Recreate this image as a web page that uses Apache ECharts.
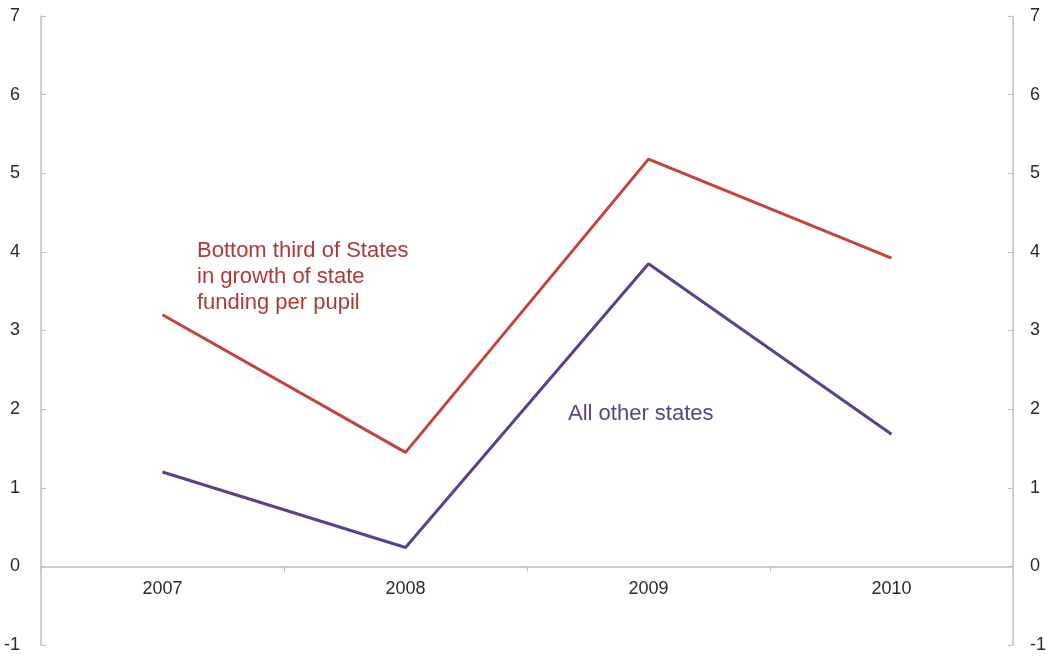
<!DOCTYPE html>
<html>
<head>
<meta charset="utf-8">
<script src="https://cdn.jsdelivr.net/npm/echarts@6/dist/echarts.min.js"></script>
<style>
  html, body { margin: 0; padding: 0; background: #fff; }
  #chart { width: 1047px; height: 658px; }
</style>
</head>
<body>
<div id="chart"></div>
<script>
var years = ['2007', '2008', '2009', '2010'];
var bottomThird = [3.2, 1.45, 5.18, 3.92];
var otherStates = [1.2, 0.24, 3.85, 1.68];
var yTicks = [-1, 0, 1, 2, 3, 4, 5, 6, 7];

var chart = echarts.init(document.getElementById('chart'));

var axisGray = '#bfbfbf';
var gridTop = 16, gridBottom = 13;
var plotH = 658 - gridTop - gridBottom;
var yMin = yTicks[0], yMax = yTicks[yTicks.length - 1];
// move the category axis up so it sits on y = 0
var xOffset = -((0 - yMin) / (yMax - yMin)) * plotH;

var labelFont = {
  color: '#2a2a2a',
  fontSize: 18,
  fontFamily: 'Liberation Sans, Arial, sans-serif'
};

var yAxisBase = function (pos, margin) {
  return {
    type: 'value',
    position: pos,
    min: yMin,
    max: yMax,
    interval: 1,
    axisLine: { show: true, lineStyle: { color: axisGray, width: 1.5 } },
    axisTick: { show: true, inside: true, length: 5, lineStyle: { color: axisGray } },
    axisLabel: Object.assign({ margin: margin }, labelFont),
    splitLine: { show: false }
  };
};

chart.setOption({
  animation: false,
  backgroundColor: '#fff',
  grid: {
    left: 41, right: 34, top: gridTop, bottom: gridBottom,
    containLabel: false, outerBoundsMode: 'none'
  },
  xAxis: {
    type: 'category',
    data: years,
    boundaryGap: true,
    offset: xOffset,
    axisLine: { onZero: false, lineStyle: { color: axisGray, width: 1.5 } },
    axisTick: { show: true, length: 5, lineStyle: { color: axisGray } },
    axisLabel: Object.assign({ margin: 14 }, labelFont)
  },
  yAxis: [yAxisBase('left', 21), yAxisBase('right', 17)],
  series: [
    {
      name: 'Bottom third of States in growth of state funding per pupil',
      type: 'line',
      data: bottomThird,
      symbol: 'none',
      lineStyle: { color: '#c6423f', width: 3 }
    },
    {
      name: 'All other states',
      type: 'line',
      data: otherStates,
      symbol: 'none',
      lineStyle: { color: '#5c408b', width: 3 }
    }
  ],
  graphic: [
    {
      type: 'text',
      left: 197,
      top: 238,
      style: {
        text: 'Bottom third of States\nin growth of state\nfunding per pupil',
        fill: '#ad3a3a',
        font: '22px "Liberation Sans", Arial, sans-serif',
        lineHeight: 26
      }
    },
    {
      type: 'text',
      left: 568,
      top: 403,
      style: {
        text: 'All other states',
        fill: '#5a4490',
        font: '22px "Liberation Sans", Arial, sans-serif'
      }
    }
  ]
});
</script>
</body>
</html>
